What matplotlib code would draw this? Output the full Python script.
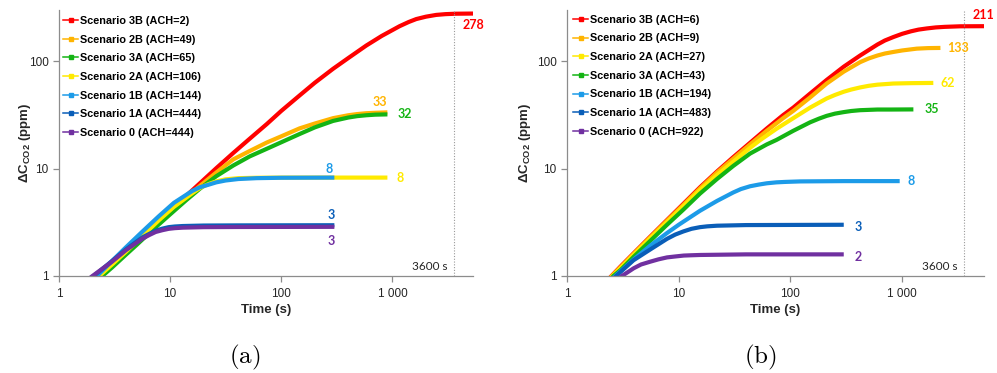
import numpy as np
import matplotlib
matplotlib.use("Agg")
import matplotlib.pyplot as plt
from matplotlib.lines import Line2D
from matplotlib.ticker import FixedLocator, FixedFormatter, NullLocator
import matplotlib.transforms as mtransforms

plt.rcParams['font.family'] = ['Liberation Sans', 'DejaVu Sans']
plt.rcParams['mathtext.fontset'] = 'custom'
plt.rcParams['mathtext.bf'] = 'Liberation Sans:bold'
plt.rcParams['mathtext.rm'] = 'Liberation Sans:bold'

# ---- data ----
X_TICKS = [1, 10, 100, 1000]
X_TICK_LABELS = ['1', '10', '100', '1 000']
Y_TICKS = [1, 10, 100]
Y_TICK_LABELS = ['1', '10', '100']
MARK_TIME = 3600
MARK_TEXT = '3600 s'

# panel (a)
names_a = ['Scenario 3B (ACH=2)', 'Scenario 2B (ACH=49)', 'Scenario 3A (ACH=65)',
           'Scenario 2A (ACH=106)', 'Scenario 1B (ACH=144)', 'Scenario 1A (ACH=444)',
           'Scenario 0 (ACH=444)']
t_3b_a = [2.0, 2.4, 3, 4, 5, 7, 10, 14, 18.5, 26, 37, 52, 74, 100, 146, 200, 292, 400, 581, 800,
          1158, 1400, 1636, 2000, 2473, 3000, 3700, 5300]
c_3b_a = [0.83, 1.0, 1.24, 1.65, 2.05, 2.85, 4.0, 5.6, 7.3, 10.1, 14.0, 19.0, 26, 34.5, 48, 63, 85,
          107, 140, 172, 212, 232, 247, 260, 270, 274.5, 277, 278]
t_2b_a = [2.0, 2.4, 3, 4, 5, 7, 10, 14, 18.5, 26, 37, 52, 74, 100, 146, 200, 292, 400, 480, 581,
          700, 900]
c_2b_a = [0.83, 1.0, 1.24, 1.64, 2.03, 2.8, 3.9, 5.35, 6.9, 9.2, 12.2, 14.6, 17.5, 20.0, 23.7, 26.3,
          29.5, 31.4, 32.2, 32.8, 33.1, 33.4]
t_3a_a = [2.0, 2.45, 3, 4, 5, 7, 10, 14, 18.5, 26, 37, 52, 74, 100, 146, 200, 292, 400, 480, 581,
          700, 900]
c_3a_a = [0.8, 1.0, 1.2, 1.58, 1.95, 2.7, 3.75, 5.1, 6.5, 8.5, 10.7, 13.0, 15.3, 17.6, 21.0, 24.2,
          27.8, 29.9, 30.8, 31.4, 31.8, 32.0]
t_2a_a = [2.0, 2.3, 3, 4, 5.6, 7.9, 10.8, 15.8, 18.5, 22.3, 26, 31.5, 41, 60, 100, 200, 900]
c_2a_a = [0.85, 1.0, 1.28, 1.68, 2.35, 3.3, 4.4, 5.9, 6.6, 7.2, 7.6, 7.95, 8.15, 8.22, 8.25, 8.25,
          8.25]
t_1b_a = [2.0, 2.2, 3, 4, 5.6, 7.9, 10.8, 15.8, 18.5, 22.3, 26, 31.5, 41, 60, 100, 300]
c_1b_a = [0.9, 1.0, 1.38, 1.85, 2.58, 3.6, 4.8, 6.2, 6.7, 7.1, 7.45, 7.75, 8.0, 8.15, 8.22, 8.25]
t_1a_a = [1.9, 2.05, 3, 4, 5.6, 6.5, 7.4, 8.5, 9.7, 11, 13, 20, 40, 300]
c_1a_a = [0.95, 1.0, 1.38, 1.77, 2.28, 2.47, 2.64, 2.76, 2.85, 2.89, 2.92, 2.95, 2.96, 2.97]
t_0_a = [1.9, 2.0, 3, 4, 5.6, 6.5, 7.4, 8.5, 9.7, 11, 13, 20, 40, 300]
c_0_a = [0.96, 1.0, 1.36, 1.74, 2.22, 2.41, 2.57, 2.67, 2.75, 2.79, 2.82, 2.85, 2.86, 2.87]
ends_a = ['278', '33', '32', '8', '8', '3', '3']

# panel (b)
names_b = ['Scenario 3B (ACH=6)', 'Scenario 2B (ACH=9)', 'Scenario 2A (ACH=27)',
           'Scenario 3A (ACH=43)', 'Scenario 1B (ACH=194)', 'Scenario 1A (ACH=483)',
           'Scenario 0 (ACH=922)']
t_3b_b = [2.2, 2.5, 3, 3.93, 5.5, 7.8, 11, 15.5, 22, 30.8, 43.5, 61, 86, 106, 150, 211, 300, 420,
          600, 700, 834, 1000, 1200, 1400, 1660, 2000, 2400, 3300, 5400]
c_3b_b = [0.87, 1.0, 1.22, 1.62, 2.3, 3.3, 4.7, 6.7, 9.4, 12.8, 17.4, 23.5, 31.5, 37, 50, 67, 89,
          113, 143, 156, 168, 180, 190, 197, 202, 206.5, 209, 211.5, 212]
t_2b_b = [2.2, 2.52, 3, 3.93, 5.5, 7.8, 11, 15.5, 22, 30.8, 43.5, 61, 86, 106, 150, 211, 300, 420,
          500, 600, 700, 834, 1000, 1352, 1700, 2200]
c_2b_b = [0.86, 1.0, 1.2, 1.6, 2.27, 3.25, 4.6, 6.55, 9.2, 12.4, 16.8, 22.4, 29.5, 34.5, 46, 62, 80,
          98, 106, 113, 118, 122, 126, 131, 132.5, 133]
t_2a_b = [2.2, 2.55, 3, 3.93, 5.5, 7.8, 11, 15.5, 22, 30.8, 43.5, 53.4, 75, 106, 150, 211, 250, 300,
          350, 420, 500, 600, 834, 1200, 1900]
c_2a_b = [0.85, 1.0, 1.18, 1.57, 2.22, 3.15, 4.45, 6.3, 8.7, 11.6, 15.6, 18.4, 23.5, 29.5, 37, 45,
          48.5, 52, 54.5, 57, 59, 60.5, 62, 62.5, 62.8]
t_3a_b = [2.2, 2.6, 3, 3.93, 5.5, 7.8, 11, 15.5, 22, 30.8, 43.5, 61.4, 75, 106, 150, 180, 211, 250,
          300, 350, 420, 600, 800, 1260]
c_3a_b = [0.82, 1.0, 1.13, 1.5, 2.1, 2.98, 4.15, 5.85, 8.0, 10.6, 13.8, 16.8, 18.5, 22.5, 27, 29.2,
          31, 32.5, 33.6, 34.4, 35, 35.5, 35.5, 35.6]
t_1b_b = [2.4, 2.7, 3.93, 5.5, 7.8, 10, 15.5, 22, 30.8, 36, 43.5, 52, 61.4, 75, 90, 122, 300, 950]
c_1b_b = [0.88, 1.0, 1.42, 1.9, 2.5, 3.0, 4.05, 5.0, 6.0, 6.45, 6.85, 7.1, 7.3, 7.45, 7.52, 7.6,
          7.65, 7.65]
t_1a_b = [2.5, 2.75, 3.93, 5.53, 7.86, 9.3, 11, 13, 15.5, 18, 22, 40, 300]
c_1a_b = [0.9, 1.0, 1.4, 1.76, 2.22, 2.43, 2.6, 2.75, 2.85, 2.9, 2.94, 2.98, 3.0]
t_0_b = [2.8, 3.1, 3.95, 4.6, 5.57, 6.6, 7.86, 9.3, 11.1, 13, 15.6, 40, 300]
c_0_b = [0.93, 1.0, 1.18, 1.28, 1.36, 1.43, 1.49, 1.52, 1.55, 1.56, 1.57, 1.59, 1.59]
ends_b = ['211', '133', '62', '35', '8', '3', '2']

# ---- styling ----
RED = '#FF0000'
ORANGE = '#FFB400'
YELLOW = '#FFEA00'
GREEN = '#14B414'
LBLUE = '#1C9BE8'
DBLUE = '#0A5EB8'
PURPLE = '#7030A0'
colors_a = [RED, ORANGE, GREEN, YELLOW, LBLUE, DBLUE, PURPLE]
colors_b = [RED, ORANGE, YELLOW, GREEN, LBLUE, DBLUE, PURPLE]

# end label offsets in pixels and alignment
end_pos_a = [(-10, -11, 'left'), (0, 10, 'right'), (10, 0, 'left'), (9, 0, 'left'),
             (-2, 9, 'right'), (0, 10, 'right'), (0, -14, 'right')]
end_pos_b = [(-11, 11, 'left'), (7, 0, 'left'), (7, 0, 'left'), (11, 0, 'left'),
             (8, 0, 'left'), (11, -2, 'left'), (11, -3, 'left')]

AX_GREY = '#8C8C8C'
TXT = '#262626'


def drawPanel(ax, series, names, colors, ends, end_pos, xmax, legend_anchor, ylabel_x):
    for (t, c), col in zip(series, colors):
        ax.plot(t, c, color=col, lw=3.0, solid_capstyle='butt', solid_joinstyle='round')

    for (t, c), col, txt, (dx, dy, ha) in zip(series, colors, ends, end_pos):
        ax.annotate(txt, (min(t[-1], xmax), c[-1]), xytext=(dx, dy), textcoords='offset pixels',
                    ha=ha, va='center', color=col, fontsize=9, fontweight='bold',
                    family=['Lato', 'DejaVu Sans'], annotation_clip=False)

    ax.set_xscale('log')
    ax.set_yscale('log')
    ax.set_xlim(1, xmax)
    ax.set_ylim(1, 300)

    ax.xaxis.set_major_locator(FixedLocator(X_TICKS))
    ax.xaxis.set_major_formatter(FixedFormatter(X_TICK_LABELS))
    ax.yaxis.set_major_locator(FixedLocator(Y_TICKS))
    ax.yaxis.set_major_formatter(FixedFormatter(Y_TICK_LABELS))
    ax.xaxis.set_minor_locator(NullLocator())
    ax.yaxis.set_minor_locator(NullLocator())

    for side in ['top', 'right']:
        ax.spines[side].set_visible(False)
    for side in ['left', 'bottom']:
        ax.spines[side].set_color(AX_GREY)
        ax.spines[side].set_linewidth(0.9)
    ax.tick_params(axis='both', direction='out', length=4, width=0.9, color=AX_GREY,
                   labelsize=8.5, labelcolor=TXT)
    ax.tick_params(axis='x', pad=4.5)
    ax.tick_params(axis='y', pad=3.5)

    ax.axvline(MARK_TIME, color='#9A9A9A', lw=0.8, ls=(0, (1, 1.5)))
    trans = mtransforms.blended_transform_factory(ax.transData, ax.transAxes)
    ax.annotate(MARK_TEXT, (MARK_TIME, 0.034), xycoords=trans, xytext=(-7, 0),
                textcoords='offset pixels', ha='right', va='center', fontsize=8.5,
                color=TXT, family=['Lato', 'DejaVu Sans'])

    ax.set_xlabel('Time (s)', fontsize=9.5, fontweight='bold', color=TXT, labelpad=3)
    ax.set_ylabel(r'ΔC$_\mathbf{CO2}$ (ppm)', fontsize=9.5, fontweight='bold', color=TXT)
    ax.yaxis.set_label_coords(ylabel_x, 0.5)

    handles = [Line2D([], [], color=col, lw=1.1, marker='s', ms=2.2) for col in colors]
    ax.legend(handles, names, loc='upper left', bbox_to_anchor=legend_anchor, frameon=False,
              prop={'size': 7.8, 'weight': 'bold'}, handlelength=1.4, handletextpad=0.15,
              labelspacing=0.8, borderaxespad=0, borderpad=0)


def main():
    fig = plt.figure(figsize=(9.97, 3.73), dpi=100)
    ax_a = fig.add_axes([59 / 997, 97 / 373, 414 / 997, 266 / 373])
    ax_b = fig.add_axes([567 / 997, 97 / 373, 417 / 997, 266 / 373])

    series_a = [(t_3b_a, c_3b_a), (t_2b_a, c_2b_a), (t_3a_a, c_3a_a), (t_2a_a, c_2a_a),
                (t_1b_a, c_1b_a), (t_1a_a, c_1a_a), (t_0_a, c_0_a)]
    series_b = [(t_3b_b, c_3b_b), (t_2b_b, c_2b_b), (t_2a_b, c_2a_b), (t_3a_b, c_3a_b),
                (t_1b_b, c_1b_b), (t_1a_b, c_1a_b), (t_0_b, c_0_b)]

    drawPanel(ax_a, series_a, names_a, colors_a, ends_a, end_pos_a, 5300, (0.0097, 0.978), -0.063)
    drawPanel(ax_b, series_b, names_b, colors_b, ends_b, end_pos_b, 5400, (0.0144, 0.982), -0.082)

    fig.text(245 / 997, 1 - 357 / 373, r'$\mathrm{(a)}$', ha='center', va='center', fontsize=18,
             math_fontfamily='cm', color='black')
    fig.text(760 / 997, 1 - 357 / 373, r'$\mathrm{(b)}$', ha='center', va='center', fontsize=18,
             math_fontfamily='cm', color='black')

    fig.savefig('out.png', dpi=100)


if __name__ == "__main__":
    main()
